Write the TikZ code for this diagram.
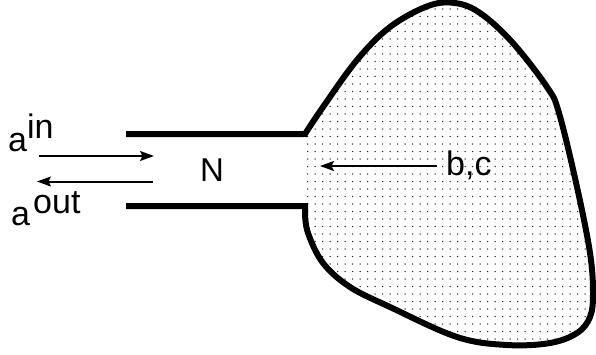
\documentclass[tikz,border=0pt]{standalone}
\usepackage{fontspec}
\setmainfont{Liberation Sans}
\usetikzlibrary{arrows.meta,patterns.meta}
\begin{document}
\begin{tikzpicture}[x=1pt,y=-1pt,
  wall/.style={line width=6pt,line join=miter},
  arr/.style={line width=2pt,-{Stealth[length=14pt,width=10pt,inset=2.5pt]}},
  lbl/.style={inner sep=0pt,font=\fontsize{34}{40}\selectfont},
  nlbl/.style={inner sep=0pt,font=\fontsize{33}{39}\selectfont}]
\useasboundingbox (0,0) rectangle (596,354);
\def\blobpts{(305,134) (323,107) (357,60) (390,27) (428,6) (455,3) (480,13) (512,42) (547,87) (559,113) (577,187) (590,253) (593,293) (590,317) (577,333) (550,343) (507,345) (457,337) (390,307) (350,287) (323,263) (308,233) (305,213)}
% blob fill
\fill[pattern={Dots[distance=7.5pt,radius=0.75pt]},pattern color=black!85]
  plot[smooth,tension=0.6] coordinates {\blobpts} -- (305,206) -- cycle;
% walls
\draw[wall] (126,134) -- (305,134) -- plot[smooth,tension=0.6] coordinates {\blobpts} -- (305,206) -- (126,206);
% labels
\node[lbl,anchor=base west] (ain) at (8,151) {a};
\node[lbl,anchor=base west] (insup) at (27,138) {in};
\node[lbl,anchor=base west] (aout) at (11,225) {a};
\node[lbl,anchor=base west] (outsup) at (33,213) {out};
\node[nlbl,anchor=base] (N) at (212,181) {N};
\node[lbl,anchor=base west] (bc) at (446,175) {b,c};
% arrows
\coordinate (inS) at (39,156);
\coordinate (inE) at (154,156);
\coordinate (outS) at (153,181.5);
\coordinate (outE) at (37,181.5);
\coordinate (bcS) at (437,166);
\coordinate (bcE) at (320,166);
\draw[arr] (inS) -- (inE);
\draw[arr] (outS) -- (outE);
\draw[arr] (bcS) -- (bcE);
\end{tikzpicture}
\end{document}
